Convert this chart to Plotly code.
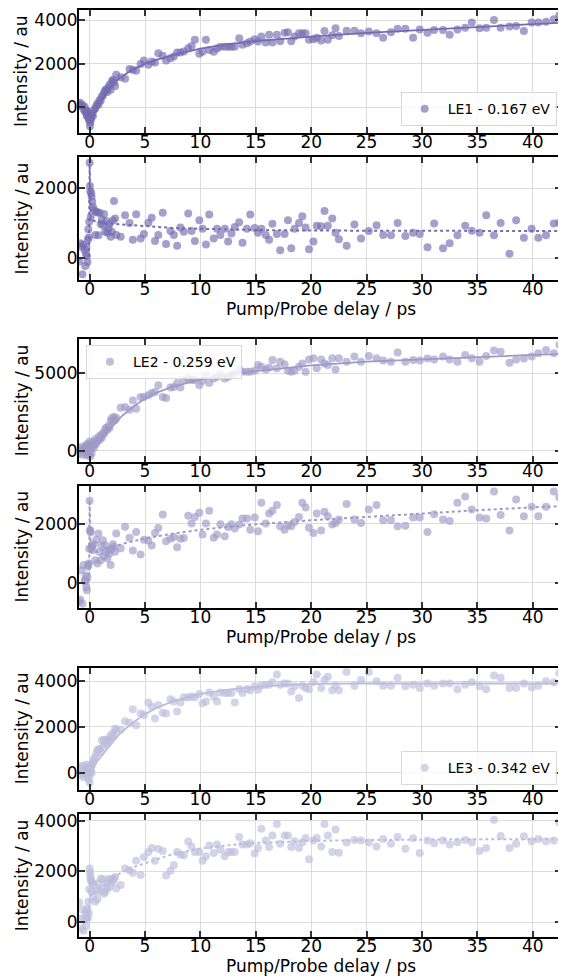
import plotly.graph_objects as go

# ---------------- data ----------------
delay = [-0.95, -0.85, -0.75, -0.65, -0.55, -0.45, -0.4, -0.35, -0.3, -0.25,
         -0.2, -0.16, -0.12, -0.08, -0.04, 0.0, 0.03, 0.06, 0.1, 0.14,
         0.18, 0.24, 0.3, 0.4, 0.5, 0.6, 0.7, 0.8, 0.9, 1.0,
         1.1, 1.2, 1.3, 1.4, 1.5, 1.6, 1.7, 1.8, 1.9, 2.0,
         2.1, 2.2, 2.3, 2.4,
         2.8, 3.2, 3.6, 3.9, 4.2, 4.6, 4.9, 5.3, 5.6, 5.9,
         6.2, 6.6, 6.9, 7.3, 7.6, 7.9, 8.2, 8.5, 8.9, 9.2,
         9.5, 9.9, 10.2, 10.5, 10.8, 11.2, 11.5, 11.8, 12.2, 12.5,
         12.8, 13.1, 13.5, 13.8, 14.2, 14.5, 14.9, 15.2, 15.5, 15.9,
         16.2, 16.5, 16.9, 17.2, 17.6, 17.9, 18.2, 18.5, 18.9, 19.2,
         19.5, 19.8, 20.2, 20.5, 20.9, 21.2, 21.5, 21.9, 22.2, 22.5,
         23.2, 23.9, 24.5, 25.2, 25.9, 26.5, 27.2, 27.8, 28.5, 29.2,
         29.8, 30.5, 31.1, 31.9, 32.5, 33.2, 33.9, 34.5, 35.2, 35.8,
         36.5, 37.1, 37.9, 38.5, 39.2, 39.9, 40.5, 41.2, 41.9, 42.4]

le1_a = [150, 210, 60, 110, -100, 30, -200, -130, -280, -400,
         -350, -200, -430, -520, -600, -510, -870, -710, -580, -480,
         -380, -280, -400, -120, -50, 60, 180, 120, 340, 300,
         490, 540, 680, 770, 830, 700, 920, 1030, 800, 1180,
         1260, 1140, 980, 1490,
         1380, 1310, 1750, 1720, 1670, 1980, 2140, 1950, 2100, 2050,
         2480, 2360, 2140, 2250, 2330, 2510, 2510, 2560, 2710, 2810,
         3090, 2450, 2540, 3090, 2630, 2540, 2690, 2780, 2780, 2780,
         2780, 2780, 3160, 2870, 2940, 3010, 3120, 3010, 3240, 2970,
         3320, 2970, 3320, 3030, 3420, 3440, 3030, 3240, 3390, 3390,
         3390, 3090, 3120, 3190, 3060, 3500, 3090, 3300, 3620, 3270,
         3510, 3510, 3390, 3470, 3390, 3190, 3440, 3600, 3600, 3190,
         3570, 3420, 3540, 3540, 3320, 3570, 3650, 3890, 3620, 3650,
         4000, 3650, 3700, 3730, 3500, 3880, 3880, 3920, 4030, 4210]

le1_b = [-90, 430, 330, -450, 400, 250, -220, 140, 330, 70,
         -100, 540, 830, 600, 1050, 2730, 2070, 1920, 1190, 1860,
         1760, 1620, 1460, 1380, 670, 1330, 1310, 660, 1300, 980,
         1110, 950, 1270, 760, 1070, 730, 860, 980, 620, 760,
         1080, 1640, 1140, 670,
         620, 1230, 1010, 530, 1260, 570, 700, 1020, 1160, 500,
         670, 1300, 410, 780, 670, 360, 880, 760, 1280, 780,
         500, 1090, 850, 400, 1250, 570, 850, 670, 850, 480,
         710, 900, 1030, 450, 850, 1250, 870, 730, 850, 670,
         530, 990, 700, 230, 700, 1090, 290, 850, 1010, 1200,
         880, 260, 480, 930, 920, 1350, 930, 1140, 730, 550,
         360, 970, 570, 780, 950, 670, 660, 1010, 640, 730,
         700, 320, 1000, 290, 430, 660, 930, 790, 730, 1230,
         660, 1010, 130, 1090, 590, 850, 590, 660, 1000, 1020]

le2_a = [-150, 100, 250, -250, 50, 200, -100, 350, 100, -300,
         450, 200, -50, 300, -200, 600, 150, -350, 400, 100,
         -150, 300, 550, 200, 750, 450, 650, 900, 700, 1000,
         850, 1150, 1100, 1400, 1500, 1350, 1600, 1500, 1950, 2100,
         1900, 2200, 2000, 2130,
         2780, 2830, 2650, 3260, 2720, 3480, 3480, 3590, 3740, 3800,
         4240, 3480, 3410, 4090, 4130, 4390, 4090, 4610, 4670, 4570,
         4570, 4240, 4520, 4890, 4390, 4670, 4780, 4960, 4670, 4780,
         4890, 5000, 5260, 5110, 5110, 5110, 5170, 5540, 5430, 5260,
         5390, 5870, 5330, 5760, 5590, 5170, 5110, 5170, 5430, 5650,
         5110, 5910, 5980, 5330, 5910, 5650, 5540, 5980, 5260, 5980,
         5760, 6090, 5760, 6130, 5980, 5830, 5760, 6350, 5760, 5870,
         5830, 5960, 5910, 6090, 5910, 5760, 6200, 5980, 5760, 6130,
         6480, 6410, 5700, 5910, 5960, 6090, 6300, 6520, 6300, 6850]

le2_b = [-640, -560, 430, -700, 600, 90, 35, 250, -135, -245,
         200, 540, 600, 650, 1150, 2765, 1780, 1755, 1700, 1160,
         1215, 1270, 1100, 1300, 765, 1450, 650, 1665, 1045, 765,
         1250, 1440, 900, 1270, 1045, 820, 1100, 990, 600, 1150,
         1300, 1215, 1050, 1665,
         1170, 1890, 1520, 1090, 1715, 955, 1455, 1430, 1260, 1680,
         1850, 2305, 1400, 1490, 1545, 1205, 1490, 1510, 2260, 2000,
         2225, 2360, 1635, 2000, 2430, 1520, 1635, 1975, 1570, 1885,
         1975, 1830, 1965, 2170, 2170, 1795, 2205, 1740, 2700, 2000,
         2340, 2430, 2625, 1910, 1795, 1940, 1910, 2055, 2225, 2700,
         2545, 1860, 1680, 2340, 1770, 2395, 2250, 1965, 2020, 2135,
         2660, 2135, 2020, 2475, 2625, 2110, 2110, 1910, 1930, 2205,
         2205, 1715, 2315, 2135, 2090, 2700, 2910, 2475, 2205, 2170,
         3080, 2285, 1770, 2815, 2250, 2570, 2250, 2570, 3080, 2885]

le3_a = [200, -100, 300, 50, -200, 250, 100, -50, 350, 0,
         200, -150, 150, -300, 50, -450, 300, -100, 150, 250,
         0, 350, 450, 600, 670, 830, 990, 1000, 1040, 900,
         1410, 1120, 1440, 1300, 1410, 1250, 1480, 1370, 1630, 1500,
         1730, 1600, 1930, 1850,
         1880, 2250, 2180, 2770, 2070, 2590, 2520, 3070, 2890, 2370,
         2960, 2620, 2590, 3210, 3110, 2670, 3070, 3300, 3290, 3330,
         3300, 3440, 3040, 3110, 3510, 3330, 3110, 3510, 3480, 3480,
         3480, 3070, 3660, 3480, 3660, 3600, 3780, 3630, 3810, 3850,
         3850, 3950, 4290, 3850, 3900, 3900, 3550, 3780, 3260, 3810,
         3700, 3650, 3950, 4290, 3700, 4050, 4200, 3600, 3800, 3600,
         4400, 3800, 4050, 4400, 4000, 3800, 3800, 4150, 3780, 3850,
         3700, 3900, 3800, 3900, 3900, 3650, 3850, 3950, 3780, 3650,
         4250, 4150, 3700, 3700, 3900, 3720, 3800, 4000, 3950, 4350]

le3_b = [780, 130, -250, 500, -350, 100, 330, -150, 450, 200,
         530, 150, 800, 350, 1300, 2120, 1960, 1820, 1690, 1600,
         1200, 1550, 1000, 1450, 800, 1250, 900, 1530, 1200, 1720,
         1330, 1690, 1120, 1200, 1530, 1320, 1700, 1400, 1600, 1700,
         1580, 1720, 1780, 1330,
         1460, 2120, 2050, 1950, 2420, 1860, 2570, 2770, 2930, 2420,
         2900, 2810, 1840, 2030, 2260, 2770, 2670, 2640, 3190, 2990,
         2770, 2770, 2420, 2600, 3030, 2730, 3070, 2860, 2600, 2770,
         2770, 2770, 3360, 3070, 3070, 3120, 2710, 2930, 3690, 3230,
         2970, 3420, 3880, 3100, 3420, 3420, 2970, 3200, 2930, 3160,
         3330, 2480, 3230, 3330, 2990, 3880, 3420, 2770, 3660, 2740,
         3150, 3250, 3230, 3150, 2990, 3290, 3100, 3360, 2900, 3320,
         2730, 3230, 3120, 3230, 3070, 3160, 3250, 3150, 2810, 2930,
         4050, 3400, 2930, 3100, 3390, 3200, 3290, 3200, 3230, 3950]

# fitted curves
fit_x_a = [-1, -0.5, -0.1, 0, 0.1, 0.2, 0.3, 0.5, 0.75, 1, 1.5, 2, 2.5, 3, 4, 5,
           6, 7.5, 10, 12.5, 15, 17.5, 20, 25, 30, 35, 40, 42.6]
fit1_a = [0, 0, -50, -150, -350, -430, -400, -250, -20, 250, 650, 1000, 1250, 1450,
          1760, 1990, 2170, 2390, 2690, 2890, 3030, 3140, 3240, 3410, 3545, 3670, 3810, 3880]
fit2_a = [0, 0, 0, -30, 30, 80, 120, 250, 450, 650, 1100, 1550, 1950, 2300,
          2900, 3370, 3750, 4150, 4600, 4900, 5150, 5350, 5520, 5760, 5920, 6060, 6200, 6260]
fit3_a = [0, 0, 0, 0, 80, 160, 230, 370, 530, 680, 1000, 1310, 1590, 1820,
          2220, 2560, 2820, 3120, 3440, 3630, 3750, 3830, 3880, 3900, 3900, 3900, 3900, 3900]

fit_x_b = [-1, -0.05, 0, 0.05, 0.1, 0.3, 0.6, 1, 1.5, 2, 2.5, 3, 4, 5, 7.5, 10,
           12.5, 15, 20, 25, 30, 35, 40, 42.6]
fit1_b = [0, 0, 2700, 1500, 1200, 1080, 1050, 1020, 1000, 990, 975, 960, 935, 910,
          870, 845, 825, 810, 795, 790, 785, 782, 780, 780]
fit2_b = [0, 0, 2800, 1500, 1050, 1020, 1050, 1080, 1140, 1200, 1260, 1320, 1410, 1500,
          1660, 1790, 1890, 1975, 2110, 2230, 2340, 2450, 2545, 2590]
fit3_b = [0, 0, 1000, 1040, 1070, 1120, 1230, 1380, 1560, 1720, 1860, 1990, 2180, 2330,
          2690, 2910, 3040, 3130, 3210, 3240, 3270, 3280, 3280, 3280]

labels = ["LE1 - 0.167 eV", "LE2 - 0.259 eV", "LE3 - 0.342 eV"]
x_title = "Pump/Probe delay / ps"
y_title = "Intensity / au"

# ---------------- styling ----------------
FONT = "DejaVu Sans"
OFF = 8                      # default page margin of the html body
W, H = 566 - OFF, 980 - OFF  # figure size so it fills the window exactly
LEFT, RIGHT = 79, 561.3
TOP_ALL, BOT_ALL = 10, 936.7
ML = LEFT - OFF
MR = W - (RIGHT - OFF)
MT = TOP_ALL - OFF
MB = H - (BOT_ALL - OFF)
PW, PH = W - ML - MR, H - MT - MB

colors = ["#756bb1", "#9e9ac8", "#bcbddc"]
panel_px = [(10, 132.7), (157.3, 280), (339.3, 461.7),
            (485.7, 607.7), (667.3, 789.3), (814, 936.7)]


def py(p):
    return (BOT_ALL - p) / PH


def px(p):
    return (p - LEFT) / PW


y_domains = [(max(0.0, py(b)), min(1.0, py(t))) for t, b in panel_px]
y_ranges = [(-1165, 4458), (-620, 2886), (-711, 7200),
            (-843, 3271), (-744, 4600), (-594, 4265)]
y_dtick = [2000, 2000, 5000, 2000, 2000, 2000]

panel_data = [le1_a, le1_b, le2_a, le2_b, le3_a, le3_b]
panel_fit_x = [fit_x_a, fit_x_b] * 3
panel_fit_y = [fit1_a, fit1_b, fit2_a, fit2_b, fit3_a, fit3_b]

fig = go.Figure()
legend_names = ["legend", "legend2", "legend3"]
for i in range(6):
    g = i // 2
    xa = "x" if i == 0 else f"x{i+1}"
    ya = "y" if i == 0 else f"y{i+1}"
    fig.add_trace(go.Scatter(
        x=delay, y=panel_data[i], mode="markers", xaxis=xa, yaxis=ya,
        marker=dict(color=colors[g], size=8, opacity=0.65, line=dict(width=0)),
        name=labels[g], showlegend=(i % 2 == 0), legend=legend_names[g]))
    fig.add_trace(go.Scatter(
        x=panel_fit_x[i], y=panel_fit_y[i], mode="lines", xaxis=xa, yaxis=ya,
        line=dict(color=colors[g], width=1.8 if i % 2 == 0 else 2,
                  dash="solid" if i % 2 == 0 else "dot"),
        showlegend=False, hoverinfo="skip"))

axis_common = dict(showline=True, linecolor="black", linewidth=2, mirror="ticks",
                   ticks="inside", ticklen=6, tickwidth=1.5, tickcolor="#333333",
                   showgrid=True, gridcolor="#dcdcdc", gridwidth=1, zeroline=False,
                   automargin=False,
                   tickfont=dict(family=FONT, size=17, color="black"))

layout = {}
annotations = []
for i in range(6):
    xk = "xaxis" if i == 0 else f"xaxis{i+1}"
    yk = "yaxis" if i == 0 else f"yaxis{i+1}"
    ya = "y" if i == 0 else f"y{i+1}"
    xa = "x" if i == 0 else f"x{i+1}"
    layout[xk] = dict(axis_common, domain=[0, 1], anchor=ya, range=[-0.96, 42.55],
                      tick0=0, dtick=5, ticklabelstandoff=-7)
    layout[yk] = dict(axis_common, domain=list(y_domains[i]), anchor=xa,
                      range=list(y_ranges[i]), tick0=0, dtick=y_dtick[i],
                      ticklabelstandoff=-4)
    top, bot = panel_px[i]
    annotations.append(dict(text=y_title, xref="paper", yref="paper",
                            x=px(21.7), y=py((top + bot) / 2), textangle=-90,
                            xanchor="center", yanchor="middle", showarrow=False,
                            font=dict(family=FONT, size=17, color="black")))
    if i % 2 == 1:
        annotations.append(dict(text=x_title, xref="paper", yref="paper",
                                x=px(321), y=py(bot + 29),
                                xanchor="center", yanchor="middle", showarrow=False,
                                font=dict(family=FONT, size=17, color="black")))

leg_common = dict(bgcolor="rgba(255,255,255,0.8)", bordercolor="#d8d8d8", borderwidth=1,
                  itemwidth=36, font=dict(family=FONT, size=14, color="black"))
layout["legend"] = dict(leg_common, x=px(557), y=py(126), xanchor="right", yanchor="bottom")
layout["legend2"] = dict(leg_common, x=px(86), y=py(345), xanchor="left", yanchor="top")
layout["legend3"] = dict(leg_common, x=px(557), y=py(785), xanchor="right", yanchor="bottom")

fig.update_layout(**layout)
fig.update_layout(width=W, height=H, margin=dict(l=ML, r=MR, t=MT, b=MB),
                  paper_bgcolor="white", plot_bgcolor="white",
                  annotations=annotations,
                  font=dict(family=FONT, size=17, color="black"))

fig.write_html("out.html")
